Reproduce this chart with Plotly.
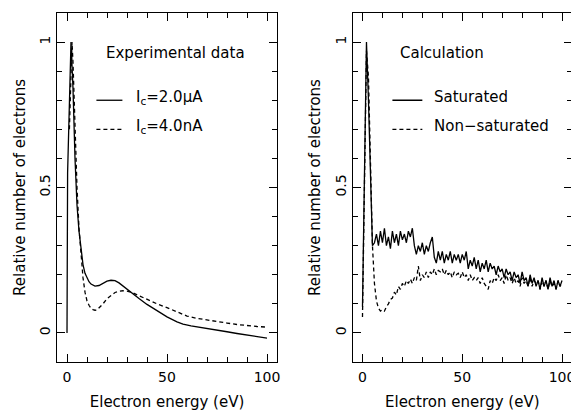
import plotly.graph_objects as go

# ---------------- data ----------------
exp_sat_x = [0, 0.3, 2, 3, 4, 5, 6, 7, 8, 9, 10, 11, 12, 14, 16, 18, 20, 22, 24, 26, 28, 30,
             33, 36, 40, 45, 50, 55, 58, 62, 66, 70, 75, 80, 85, 90, 95, 100]
exp_sat_y = [0.0, 0.55, 1.0, 0.84, 0.60, 0.44, 0.35, 0.28, 0.235, 0.205, 0.188, 0.176, 0.168,
             0.161, 0.163, 0.171, 0.178, 0.181, 0.180, 0.172, 0.161, 0.150,
             0.133, 0.118, 0.098, 0.075, 0.055, 0.038, 0.030, 0.024, 0.019, 0.015, 0.010,
             0.004, -0.002, -0.008, -0.013, -0.018]

exp_uns_x = [1.2, 2.5, 3, 4, 5, 6, 7, 8, 9, 10, 11, 12, 13, 14, 15, 16, 18, 20, 22, 24, 26, 28,
             30, 33, 36, 40, 45, 50, 55, 60, 65, 70, 75, 80, 85, 90, 95, 100]
exp_uns_y = [0.70, 1.0, 0.93, 0.70, 0.50, 0.36, 0.26, 0.19, 0.14, 0.11, 0.095, 0.085, 0.080,
             0.078, 0.079, 0.085, 0.100, 0.118, 0.130, 0.139, 0.143, 0.145,
             0.144, 0.138, 0.128, 0.115, 0.100, 0.087, 0.072, 0.058, 0.050, 0.044, 0.039,
             0.034, 0.029, 0.025, 0.022, 0.020]

calc_x = list(range(0, 101))
calc_sat_y = [0.09, 0.55, 1.0, 0.80, 0.50, 0.30,
              0.31, 0.34, 0.30, 0.35, 0.31, 0.36, 0.30, 0.33, 0.29, 0.35,
              0.31, 0.34, 0.30, 0.35, 0.32, 0.34, 0.31, 0.35, 0.33, 0.36,
              0.30, 0.27, 0.30, 0.28, 0.31, 0.27, 0.30, 0.28, 0.31, 0.33,
              0.26, 0.24, 0.28, 0.25, 0.28, 0.24, 0.27, 0.25, 0.28, 0.24,
              0.27, 0.25, 0.27, 0.24, 0.27, 0.25, 0.28, 0.22, 0.25, 0.23,
              0.26, 0.22, 0.25, 0.21, 0.24, 0.22, 0.25, 0.21, 0.24, 0.22,
              0.23, 0.20, 0.23, 0.21, 0.22, 0.19, 0.22, 0.20, 0.21, 0.18,
              0.21, 0.19, 0.20, 0.17, 0.21, 0.18, 0.19, 0.16, 0.20, 0.17,
              0.19, 0.16, 0.18, 0.15, 0.19, 0.16, 0.18, 0.15, 0.19, 0.16,
              0.18, 0.15, 0.18, 0.16, 0.18]
calc_uns_y = [0.055, 0.50, 0.97, 0.88, 0.55, 0.30,
              0.17, 0.11, 0.085, 0.075, 0.080, 0.075, 0.090, 0.100, 0.115, 0.120,
              0.140, 0.130, 0.160, 0.150, 0.170, 0.160, 0.180, 0.170, 0.185, 0.170,
              0.190, 0.180, 0.230, 0.180, 0.200, 0.190, 0.210, 0.190, 0.210, 0.200,
              0.220, 0.200, 0.215, 0.210, 0.220, 0.200, 0.215, 0.200, 0.210, 0.190,
              0.210, 0.200, 0.205, 0.190, 0.210, 0.190, 0.200, 0.180, 0.200, 0.180,
              0.190, 0.180, 0.190, 0.170, 0.190, 0.170, 0.160, 0.150, 0.180, 0.170,
              0.190, 0.180, 0.200, 0.180, 0.190, 0.170, 0.200, 0.180, 0.190, 0.170,
              0.190, 0.170, 0.180, 0.160, 0.190, 0.170, 0.180, 0.160, 0.190, 0.160,
              0.180, 0.170, 0.180, 0.150, 0.180, 0.160, 0.180, 0.150, 0.180, 0.160,
              0.170, 0.150, 0.180, 0.160, 0.170]

panel_titles = ["Experimental data", "Calculation"]
legend_labels = [["I<sub>c</sub>=2.0\u03bcA", "I<sub>c</sub>=4.0nA"],
                 ["Saturated", "Non\u2212saturated"]]
x_tick_vals = [0, 50, 100]
y_tick_vals = [0, 0.5, 1]
y_tick_text = ["0", "0.5", "1"]

# ---------------- figure ----------------
# page body has an 8px default margin (top/left), so the figure is shifted by 8px
OFF = 8
W, H = 579 - OFF, 414 - OFF
FONT = "DejaVu Sans"
fig = go.Figure()

line_solid = dict(color="black", width=1.3)
line_dash = dict(color="black", width=1.3, dash="4px,3px")

fig.add_trace(go.Scatter(x=exp_sat_x, y=exp_sat_y, mode="lines", line=line_solid,
                         xaxis="x", yaxis="y", showlegend=False))
fig.add_trace(go.Scatter(x=exp_uns_x, y=exp_uns_y, mode="lines", line=line_dash,
                         xaxis="x", yaxis="y", showlegend=False))
fig.add_trace(go.Scatter(x=calc_x, y=calc_sat_y, mode="lines", line=line_solid,
                         xaxis="x2", yaxis="y2", showlegend=False))
fig.add_trace(go.Scatter(x=calc_x, y=calc_uns_y, mode="lines", line=line_dash,
                         xaxis="x2", yaxis="y2", showlegend=False))

def xdom(a, b):
    return [(a - OFF) / W, (b - OFF) / W]

ydom = [1 - (362 - OFF) / H, 1 - (13 - OFF) / H]

xaxis_common = dict(range=[-5, 105], tickvals=x_tick_vals, ticks="inside", ticklen=8,
                    tickwidth=1, tickcolor="black", mirror="ticks", showline=True,
                    linecolor="black", linewidth=1, showgrid=False, zeroline=False,
                    automargin=False, ticklabelstandoff=2,
                    minor=dict(dtick=10, tick0=0, ticks="inside", ticklen=5, tickcolor="black",
                               tickwidth=1, showgrid=False),
                    tickfont=dict(family=FONT, size=14, color="black"),
                    title=dict(text="Electron energy (eV)", standoff=12,
                               font=dict(family=FONT, size=15, color="black")))
yaxis_common = dict(range=[-0.1, 1.1], tickvals=y_tick_vals, ticktext=y_tick_text,
                    tickangle=-90, ticks="inside", ticklen=8, tickwidth=1, tickcolor="black",
                    mirror="ticks", showline=True, linecolor="black", linewidth=1,
                    showgrid=False, zeroline=False, automargin=False,
                    minor=dict(dtick=0.1, tick0=0, ticks="inside", ticklen=5, tickcolor="black",
                               tickwidth=1, showgrid=False),
                    tickfont=dict(family=FONT, size=14, color="black"),
                    title=dict(text="Relative number of electrons", standoff=8,
                               font=dict(family=FONT, size=15, color="black")))

fig.update_layout(
    width=W, height=H, margin=dict(l=0, r=0, t=0, b=0, autoexpand=False),
    paper_bgcolor="white", plot_bgcolor="white",
    xaxis=dict(xaxis_common, domain=xdom(57, 277), anchor="y"),
    yaxis=dict(yaxis_common, domain=ydom, anchor="x"),
    xaxis2=dict(xaxis_common, domain=xdom(352.5, 572), anchor="y2"),
    yaxis2=dict(yaxis_common, domain=ydom, anchor="x2"),
)

# panel labels and legend keys
txt_font = dict(family=FONT, size=15, color="black")
panels = [("x", "y", 54, 14.7, 27.7, 33.6), ("x2", "y2", 40, 15, 30, 35)]
for i, (xr, yr, tx, l0, l1, lt) in enumerate(panels):
    fig.add_annotation(x=tx, y=0.963, xref=xr, yref=yr, text=panel_titles[i],
                       showarrow=False, font=txt_font, xanchor="center", yanchor="middle")
    fig.add_shape(type="line", xref=xr, yref=yr, x0=l0, x1=l1, y0=0.80, y1=0.80,
                  line=dict(color="black", width=1.3))
    fig.add_shape(type="line", xref=xr, yref=yr, x0=l0, x1=l1, y0=0.70, y1=0.70,
                  line=dict(color="black", width=1.3, dash="4px,3px"))
    fig.add_annotation(x=lt, y=0.81, xref=xr, yref=yr, text=legend_labels[i][0],
                       showarrow=False, font=txt_font, xanchor="left", yanchor="middle")
    fig.add_annotation(x=lt, y=0.71, xref=xr, yref=yr, text=legend_labels[i][1],
                       showarrow=False, font=txt_font, xanchor="left", yanchor="middle")

fig.write_html("out.html")
